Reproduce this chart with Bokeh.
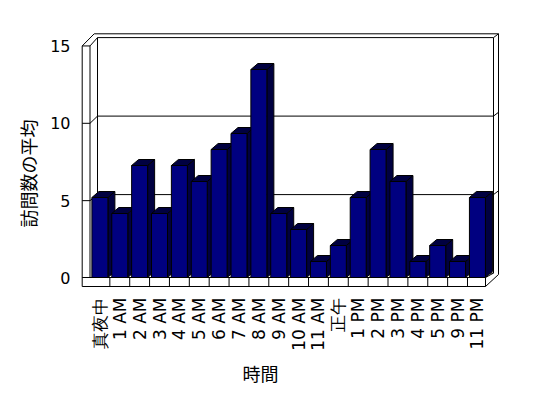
import math
from bokeh.plotting import figure
from bokeh.models import Range1d, LinearAxis, FixedTicker, ColumnDataSource, Title
from bokeh.embed import file_html
from bokeh.resources import INLINE

# ---------------- data ----------------
categories = ["真夜中", "1 AM", "2 AM", "3 AM", "4 AM", "5 AM", "6 AM", "7 AM",
              "8 AM", "9 AM", "10 AM", "11 AM", "正午", "1 PM", "2 PM", "3 PM",
              "4 PM", "5 PM", "9 PM", "11 PM"]
visits = [5, 4, 7, 4, 7, 6, 8, 9, 13, 4, 3, 1, 2, 5, 8, 6, 1, 2, 1, 5]
y_ticks = [0, 5, 10, 15]
x_title = "時間"
y_title = "訪問数の平均"

# ---------------- geometry (page pixels) ----------------
CAT0_X, CAT_STEP = 99.4, 19.87      # centre of first category, spacing
BASE_Y, UNIT_PX = 277.0, 16.0       # bar scale
FRONT_BASE, FRONT_UNIT = 277.5, 15.47   # front (axis) scale
BACK_BASE, BACK_UNIT = 272.6, 15.7      # back-wall scale
FL, FT, FW, FH = 78, 28, 427, 259   # frame on page
PW, PH = 532, 382
OFF = 0                              # observed page offset of the figure


def X(px):
    return (px - CAT0_X) / CAT_STEP


def Y(py):
    return (BASE_Y - py) / UNIT_PX


p = figure(width=PW, height=PH, frame_width=FW, frame_height=FH,
           min_border_left=FL - OFF, min_border_top=FT - OFF,
           min_border_right=PW - (FL - OFF) - FW,
           min_border_bottom=PH - (FT - OFF) - FH,
           x_range=Range1d(X(FL), X(FL + FW)),
           y_range=Range1d(Y(FT + FH), Y(FT)),
           output_backend="svg", toolbar_location=None,
           y_axis_location=None)
p.outline_line_color = None
p.background_fill_color = "white"
p.border_fill_color = "white"
p.grid.visible = False

# front value axis
p.extra_y_ranges = {"front": Range1d((FRONT_BASE - (FT + FH)) / FRONT_UNIT,
                                     (FRONT_BASE - FT) / FRONT_UNIT)}
yax = LinearAxis(y_range_name="front", ticker=FixedTicker(ticks=y_ticks))
p.add_layout(yax, "left")

xax = p.xaxis[0]
xax.ticker = FixedTicker(ticks=list(range(len(categories))))
xax.major_label_overrides = {i: c for i, c in enumerate(categories)}
xax.major_label_orientation = math.pi / 2

for ax, fs in ((xax, "17px"), (yax, "16px")):
    ax.axis_line_color = None
    ax.major_tick_line_color = None
    ax.minor_tick_line_color = None
    ax.major_tick_out = 0
    ax.major_tick_in = 0
    ax.minor_tick_out = 0
    ax.major_label_text_font = "DejaVu Sans"
    ax.major_label_text_font_size = fs
    ax.major_label_text_color = "black"

xax.major_label_standoff = 10
yax.major_label_standoff = 8

# axis titles (as side-panel titles so they can sit off-centre like the reference)
p.add_layout(Title(text=x_title, align="left", offset=164,
                   text_font="Noto Sans CJK JP", text_font_size="18px",
                   text_font_style="normal", text_color="black", standoff=9),
             "below")
p.add_layout(Title(text=y_title, align="left", offset=60,
                   text_font="Noto Sans CJK JP", text_font_size="18px",
                   text_font_style="normal", text_color="black", standoff=14),
             "left")

# ---------------- 3-D frame (walls and floor) ----------------
def yf(v):
    return FRONT_BASE - v * FRONT_UNIT


def yb(v):
    return BACK_BASE - v * BACK_UNIT


top_b = yb(y_ticks[-1])
top_f = yf(y_ticks[-1])
frame_lines = [
    # left wall
    [(81.7, top_f), (81.7, 286)],
    [(89.5, top_f), (89.5, 277)],
    [(81.7, top_f), (89.5, top_f)],
    [(81.7, top_f), (93.7, top_b - 3.8)],
    [(89.5, top_f), (97, top_b)],
    # back wall
    [(93.7, top_b - 3.8), (498, top_b - 3.8)],
    [(97, top_b), (493, top_b)],
    [(97, top_b), (97, BACK_BASE)],
    [(493, top_b), (493, BACK_BASE)],
    [(493, top_b), (498, top_b - 3.8)],
    [(498, top_b - 3.8), (498, 274)],
    # floor
    [(81.7, 277), (485, 277)],
    [(81.7, 286), (485, 286)],
    [(485, 277), (485, 286)],
    [(485, 277), (493, BACK_BASE)],
    [(485, 286), (498, 274)],
    [(97, BACK_BASE), (493, BACK_BASE)],
]
for v in y_ticks[1:-1]:
    frame_lines.append([(81.7, yf(v)), (89.5, yf(v)), (97, yb(v)),
                        (493, yb(v)), (498, yb(v) - 3.8)])

p.multi_line(xs=[[X(a) for a, b in ln] for ln in frame_lines],
             ys=[[Y(b) for a, b in ln] for ln in frame_lines],
             line_color="black", line_width=1)

# category cells on the floor front
p.segment(x0=[i + 0.5 for i in range(len(categories) - 1)],
          x1=[i + 0.5 for i in range(len(categories) - 1)],
          y0=Y(277), y1=Y(286), line_color="black", line_width=1)

# ---------------- 3-D bars ----------------
W = 16 / CAT_STEP
DX = 7 / CAT_STEP
DY = 6 / UNIT_PX
xs, ys, cols = [], [], []
for i, v in enumerate(visits):
    l, r = i - W / 2, i + W / 2
    # side face
    xs.append([r, r + DX, r + DX, r]); ys.append([0, DY, v + DY, v]); cols.append("#000040")
    # top face
    xs.append([l, r, r + DX, l + DX]); ys.append([v, v, v + DY, v + DY]); cols.append("#000040")
    # front face
    xs.append([l, r, r, l]); ys.append([0, 0, v, v]); cols.append("#000080")

src = ColumnDataSource(dict(xs=xs, ys=ys, c=cols))
p.patches("xs", "ys", source=src, fill_color="c", line_color="black", line_width=1)

open("out.html", "w").write(file_html(p, INLINE))
